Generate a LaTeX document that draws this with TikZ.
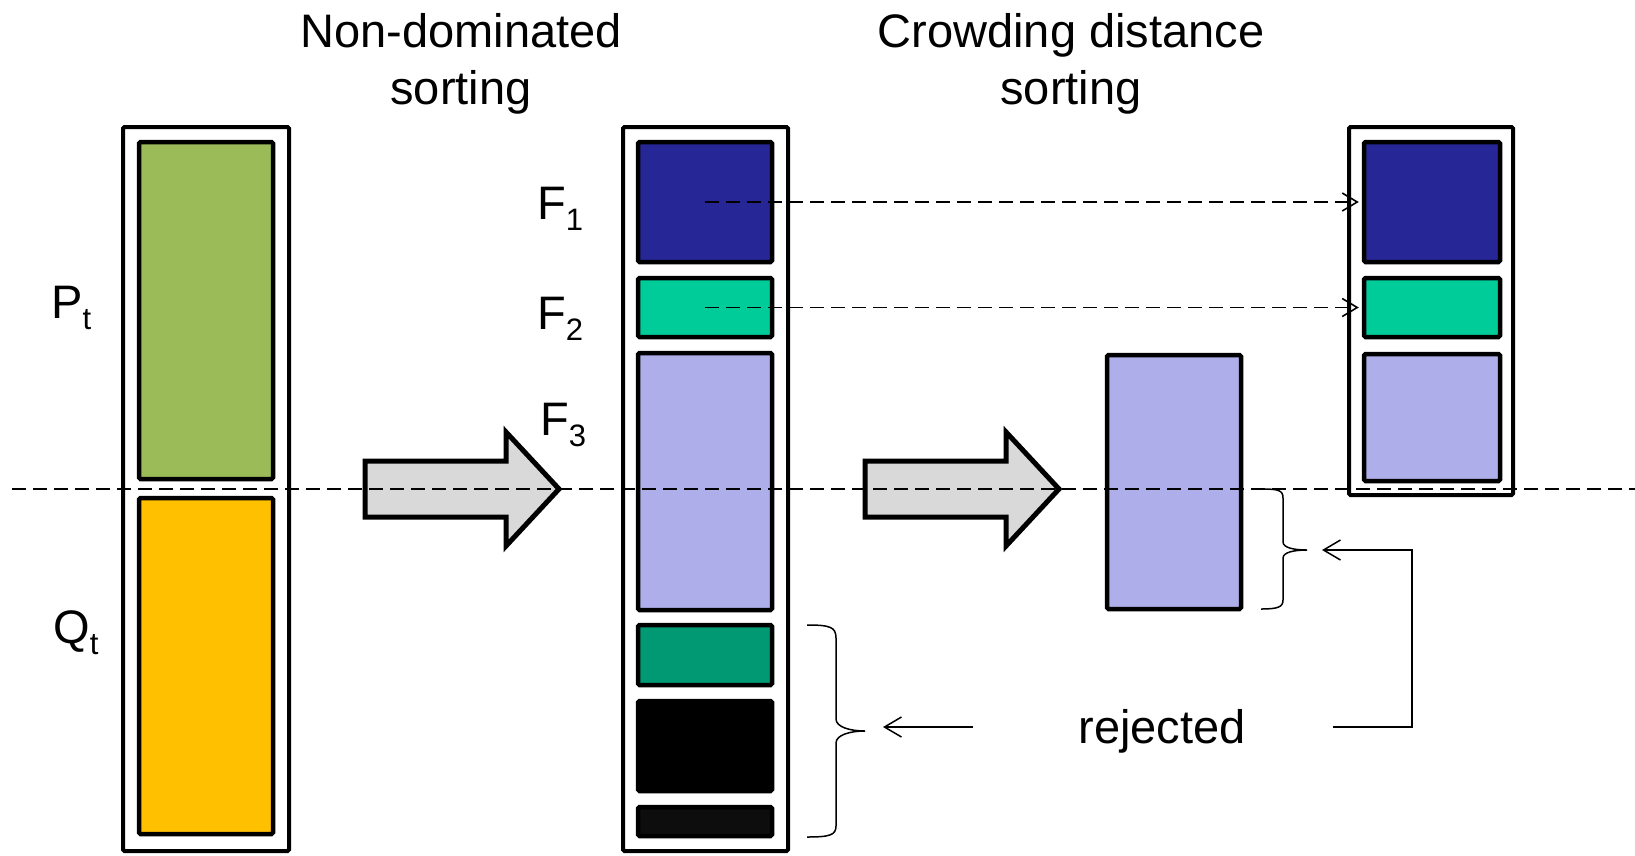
\documentclass[tikz,border=0pt]{standalone}
\usepackage{fontspec}
\setmainfont{Liberation Sans}
\usetikzlibrary{arrows.meta}
\definecolor{ptgreen}{RGB}{155,187,89}
\definecolor{qtyellow}{RGB}{255,192,0}
\definecolor{fonecol}{RGB}{38,38,150}
\definecolor{ftwocol}{RGB}{0,204,153}
\definecolor{fthreecol}{RGB}{174,174,234}
\definecolor{ffourcol}{RGB}{0,153,115}
\definecolor{fsixcol}{RGB}{13,13,13}
\definecolor{arrowgray}{RGB}{217,217,217}
\newcommand\lblfont{\fontsize{47}{57}\selectfont}
\newcommand\subtxt[1]{\raisebox{-11pt}{\fontsize{31}{31}\selectfont #1}}
\begin{document}
\begin{tikzpicture}[x=1pt,y=-1pt,
  outerbox/.style={draw, line width=4pt, rounded corners=1.5pt, inner sep=0pt},
  front/.style={draw, line width=4.5pt, rounded corners=1.5pt, inner sep=0pt, minimum width=134pt},
  lbl/.style={inner sep=0pt, font=\lblfont},
  bigarrow/.style={fill=arrowgray, draw, line width=5pt, line join=miter},
  thinarrow/.style={line width=1.5pt, -{Straight Barb[length=17pt,width=20pt]}},
  dashline/.style={line width=1.6pt, dash pattern=on 14pt off 7pt},
  bracestyle/.style={line width=1.5pt}]
\useasboundingbox (0,0) rectangle (1635,855);
% population P_t + Q_t
\node[outerbox, minimum width=166pt, minimum height=724pt] (pop) at (206,489) {};
\node[front, fill=ptgreen, minimum height=337pt] (pt) at (206,310.5) {};
\node[front, fill=qtyellow, minimum height=336pt] (qt) at (206,666) {};
\node[lbl, anchor=base west] (ptlbl) at (51,318) {P\subtxt{t}};
\node[lbl, anchor=base west] (qtlbl) at (53,643) {Q\subtxt{t}};
% fronts after sorting
\node[outerbox, minimum width=165pt, minimum height=724pt] (sorted) at (705.5,489) {};
\node[front, fill=fonecol, minimum height=120pt] (f1) at (705,202) {};
\node[front, fill=ftwocol, minimum height=59pt] (f2) at (705,307.5) {};
\node[front, fill=fthreecol, minimum height=257pt] (f3) at (705,481.5) {};
\node[front, fill=ffourcol, minimum height=60pt] (f4) at (705,655) {};
\node[front, fill=black, minimum height=90pt] (f5) at (705,746) {};
\node[front, fill=fsixcol, minimum height=29pt] (f6) at (705,821.5) {};
\node[lbl, anchor=base west] (f1lbl) at (537,219) {F\subtxt{1}};
\node[lbl, anchor=base west] (f2lbl) at (537,329) {F\subtxt{2}};
\node[lbl, anchor=base west] (f3lbl) at (540,435) {F\subtxt{3}};
% split front
\node[front, fill=fthreecol, minimum height=254pt] (cut) at (1174,482) {};
% next population
\node[outerbox, minimum width=164pt, minimum height=368pt] (next) at (1431,311) {};
\node[front, fill=fonecol, minimum width=136pt, minimum height=120pt] (g1) at (1432,202) {};
\node[front, fill=ftwocol, minimum width=136pt, minimum height=59pt] (g2) at (1432,307.5) {};
\node[front, fill=fthreecol, minimum width=136pt, minimum height=127pt] (g3) at (1432,417.5) {};
% headings
\node[lbl, align=center, anchor=base] (nds) at (461,104) {Non-dominated\\sorting};
\node[lbl, align=center, anchor=base] (cds) at (1071,104) {Crowding distance\\sorting};
% block arrows
\filldraw[bigarrow] (365,461) -- (506,461) -- (506,432) -- (559,489)
  -- (506,546) -- (506,517) -- (365,517) -- cycle;
\filldraw[bigarrow] (865,461) -- (1006,461) -- (1006,432) -- (1059,489)
  -- (1006,546) -- (1006,517) -- (865,517) -- cycle;
% copies into the next population
\draw[dashline, -{Straight Barb[length=15pt,width=18pt]}, shorten >=3pt] (f1.center) -- (g1.west);
\draw[dashline, -{Straight Barb[length=15pt,width=18pt]}, shorten >=3pt] (f2.center) -- (g2.west);
% rejected
\node[lbl, anchor=base] (rej) at (1162,743) {rejected};
\draw[bracestyle] (807,625) .. controls (830,625) and (836,627) .. (836,638)
  -- (836,719) .. controls (836,727) and (850,731) .. (865,731)
  .. controls (850,731) and (836,735) .. (836,743)
  -- (836,826) .. controls (836,835) and (830,837) .. (807,837);
\draw[bracestyle] (1261,489) .. controls (1278,489) and (1283,490) .. (1283,498)
  -- (1283,542) .. controls (1283,548) and (1295,550) .. (1307,550)
  .. controls (1295,550) and (1283,552) .. (1283,558)
  -- (1283,600) .. controls (1283,607) and (1278,609) .. (1261,609);
\coordinate (rejA) at (973,727);
\coordinate (rejB) at (883,727);
\coordinate (rejC) at (1333,727);
\coordinate (rejD) at (1322,550);
\draw[thinarrow] (rejA) -- (rejB);
\draw[thinarrow] (rejC) -- ++(79,0) |- (rejD);
% population size limit
\coordinate (cutL) at (12,489);
\coordinate (cutR) at (1635,489);
\draw[dashline] (cutL) -- (cutR);
\end{tikzpicture}
\end{document}
